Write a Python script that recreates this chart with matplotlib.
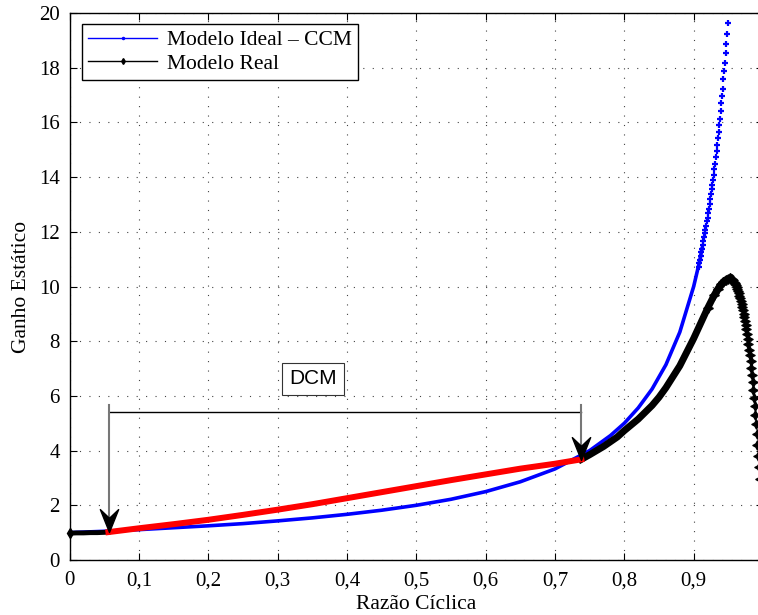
#!/usr/bin/env python3
"""Static gain of the boost converter: ideal CCM model vs. real model."""

import matplotlib
matplotlib.use('Agg')
import matplotlib.pyplot as plt
from matplotlib.path import Path
from matplotlib.lines import Line2D

# --- Data ---
# Ideal model (CCM), dense part
d_ideal = [0.0, 0.05, 0.1, 0.15, 0.2, 0.25, 0.3, 0.35, 0.4, 0.45, 0.5, 0.55,
           0.6, 0.65, 0.7, 0.75, 0.78, 0.8, 0.82, 0.84, 0.86, 0.88, 0.9, 0.907]
g_ideal = [1.0, 1.05, 1.11, 1.18, 1.25, 1.33, 1.43, 1.54, 1.67, 1.82, 2.0, 2.22,
           2.5, 2.86, 3.33, 4.0, 4.55, 5.0, 5.56, 6.25, 7.14, 8.33, 10.0, 10.75]

# Ideal model, upper part where single markers are visible
d_ideal_top = [0.907, 0.908, 0.909, 0.910, 0.911, 0.912, 0.913, 0.914, 0.915,
               0.916, 0.917, 0.918, 0.919, 0.920, 0.921, 0.922, 0.923, 0.924,
               0.925, 0.926, 0.927, 0.928, 0.929, 0.930, 0.931, 0.932, 0.933,
               0.934, 0.935, 0.936, 0.937, 0.938, 0.939, 0.940, 0.941, 0.942,
               0.943, 0.944, 0.945, 0.946, 0.947, 0.948, 0.949]
g_ideal_top = [10.72, 10.85, 10.98, 11.12, 11.25, 11.38, 11.51, 11.68, 11.81,
               11.95, 12.08, 12.21, 12.39, 12.52, 12.68, 12.85, 13.03, 13.20,
               13.37, 13.55, 13.72, 13.89, 14.09, 14.31, 14.48, 14.72, 14.95,
               15.19, 15.43, 15.65, 15.89, 16.14, 16.42, 16.71, 16.95, 17.23,
               17.59, 17.89, 18.19, 18.53, 18.88, 19.23, 19.63]

# Real model: below DCM, CCM rising branch, falling tail
d_real_low = [0.0, 0.01, 0.02, 0.03, 0.04, 0.05, 0.056]
g_real_low = [0.98, 0.99, 0.99, 1.0, 1.0, 1.01, 1.02]

d_real_ccm = [0.738, 0.75, 0.77, 0.79, 0.8, 0.82, 0.84, 0.85, 0.86, 0.88, 0.9,
              0.91, 0.92, 0.93, 0.935, 0.94, 0.943, 0.946, 0.949, 0.952]
g_real_ccm = [3.68, 3.85, 4.15, 4.5, 4.73, 5.15, 5.65, 5.95, 6.3, 7.1, 8.1,
              8.65, 9.2, 9.7, 9.92, 10.1, 10.18, 10.24, 10.28, 10.30]

d_real_tail = [0.953, 0.954, 0.955, 0.956, 0.957, 0.958, 0.959, 0.960, 0.961,
               0.962, 0.963, 0.964, 0.965, 0.966, 0.967, 0.968, 0.969, 0.970,
               0.971, 0.972, 0.973, 0.974, 0.975, 0.976, 0.977, 0.978, 0.979,
               0.980, 0.981, 0.982, 0.983, 0.984, 0.985, 0.986, 0.987, 0.988,
               0.989, 0.990, 0.991, 0.992, 0.993, 0.994, 0.995]
g_real_tail = [10.30, 10.29, 10.27, 10.25, 10.22, 10.18, 10.14, 10.09, 10.04,
               9.98, 9.91, 9.84, 9.76, 9.67, 9.58, 9.48, 9.37, 9.26,
               9.14, 9.01, 8.88, 8.74, 8.59, 8.43, 8.26, 8.08, 7.89,
               7.69, 7.48, 7.26, 7.02, 6.77, 6.51, 6.23, 5.94, 5.63,
               5.30, 4.96, 4.60, 4.22, 3.82, 3.40, 2.96]

# Real model in DCM (highlighted in red)
d_dcm = [0.056, 0.1, 0.15, 0.2, 0.25, 0.3, 0.35, 0.4, 0.45, 0.5, 0.55, 0.6,
         0.65, 0.7, 0.738]
g_dcm = [1.02, 1.16, 1.31, 1.47, 1.65, 1.84, 2.04, 2.26, 2.48, 2.70, 2.92, 3.13,
         3.34, 3.52, 3.68]

# DCM annotation
dcm_limits = [0.057, 0.738]
dcm_arrow_tips = [1.04, 3.66]
dcm_bar_level = 5.4
dcm_label = 'DCM'

x_ticks = [0, 0.1, 0.2, 0.3, 0.4, 0.5, 0.6, 0.7, 0.8, 0.9, 1.0]
x_tick_labels = ['0', '0,1', '0,2', '0,3', '0,4', '0,5', '0,6', '0,7', '0,8', '0,9', '1']
y_ticks = [0, 2, 4, 6, 8, 10, 12, 14, 16, 18, 20]

SERIF = 'Liberation Serif'
SANS = 'Liberation Sans'

# Arrow head shape (tip at origin, pointing down)
ARROW_HEAD = Path([(0, 0), (-0.4, 1.0), (0, 0.62), (0.4, 1.0), (0, 0)],
                  [Path.MOVETO, Path.LINETO, Path.LINETO, Path.LINETO, Path.CLOSEPOLY])


def main():
    fig = plt.figure(figsize=(7.58, 6.15), dpi=100)
    ax = fig.add_axes([69.6 / 758, 55 / 615, 693.4 / 758, 547 / 615])

    # Grid first so the data sits on top
    ax.grid(True, color='#444444', linestyle=(0, (1, 7.5)), linewidth=0.8)
    ax.set_axisbelow(True)

    # Ideal model
    ax.plot(d_ideal + d_ideal_top[1:6], g_ideal + g_ideal_top[1:6], color='#0000ff',
            lw=2.6, zorder=3)
    ax.plot(d_ideal_top, g_ideal_top, ls='none', marker='+', ms=5, mew=1.6,
            color='#0000ff', zorder=3)

    # Real model
    ax.plot(d_real_low, g_real_low, color='black', lw=3.5, zorder=4)
    ax.plot(d_real_low[:1], g_real_low[:1], ls='none', marker='d', ms=5,
            color='black', clip_on=False, zorder=4)
    ax.plot(d_real_ccm, g_real_ccm, color='black', lw=5.0, zorder=4)
    ax.plot(d_real_ccm[-8:], g_real_ccm[-8:], ls='none', marker=(4, 1, 0), ms=7,
            color='black', zorder=4)
    ax.plot(d_real_tail, g_real_tail, ls='none', marker=(4, 1, 0), ms=7,
            mew=0.8, color='black', zorder=4)

    # DCM region
    ax.plot(d_dcm, g_dcm, color='#ff0000', lw=4.3, zorder=5)

    # DCM annotation: bar, vertical lines, arrow heads and label box
    ax.plot(dcm_limits, [dcm_bar_level, dcm_bar_level], color='black', lw=1.0, zorder=6)
    for x, tip in zip(dcm_limits, dcm_arrow_tips):
        ax.plot([x, x], [dcm_bar_level + 0.28, tip + 0.3], color='#777777', lw=1.5, zorder=6)
        ax.plot([x], [tip], ls='none', marker=ARROW_HEAD, ms=33, color='black', zorder=7)
    ax.text(0.351, 6.62, dcm_label, family=SANS, fontsize=15, ha='center', va='center',
            bbox=dict(boxstyle='square,pad=0.33', facecolor='white',
                      edgecolor='#333333', linewidth=0.8), zorder=7)

    # Axes
    ax.set_xlim(0, 1)
    ax.set_ylim(0, 20)
    ax.set_xticks(x_ticks)
    ax.set_xticklabels(x_tick_labels, family=SERIF, fontsize=15)
    ax.set_yticks(y_ticks)
    ax.set_yticklabels([str(v) for v in y_ticks], family=SERIF, fontsize=15)
    ax.tick_params(direction='in', length=5, width=0.8, top=True, right=True)
    ax.tick_params(axis='x', pad=8)
    ax.tick_params(axis='y', pad=7)
    for s in ax.spines.values():
        s.set_linewidth(1.0)

    ax.set_xlabel('Razão Cíclica', family=SERIF, fontsize=15.5)
    ax.xaxis.set_label_coords(0.5, -0.064)
    ax.xaxis.label.set_va('top')
    ax.set_ylabel('Ganho Estático', family=SERIF, fontsize=15.5)
    ax.yaxis.set_label_coords(-0.055, 0.5)

    # Legend
    handles = [
        Line2D([], [], color='#0000ff', lw=1.0, marker='.', ms=3),
        Line2D([], [], color='black', lw=1.0, marker='d', ms=3),
    ]
    leg = ax.legend(handles, ['Modelo Ideal – CCM', 'Modelo Real'],
                    loc='upper left', bbox_to_anchor=(0.0175, 0.98),
                    prop={'family': SERIF, 'size': 15.5}, fancybox=False,
                    framealpha=1, edgecolor='black', handlelength=3.2,
                    handletextpad=0.45, labelspacing=0.15, borderpad=0.3,
                    borderaxespad=0)
    leg.get_frame().set_linewidth(1.0)

    fig.savefig('out.png', dpi=100)
    plt.close(fig)


if __name__ == '__main__':
    main()
